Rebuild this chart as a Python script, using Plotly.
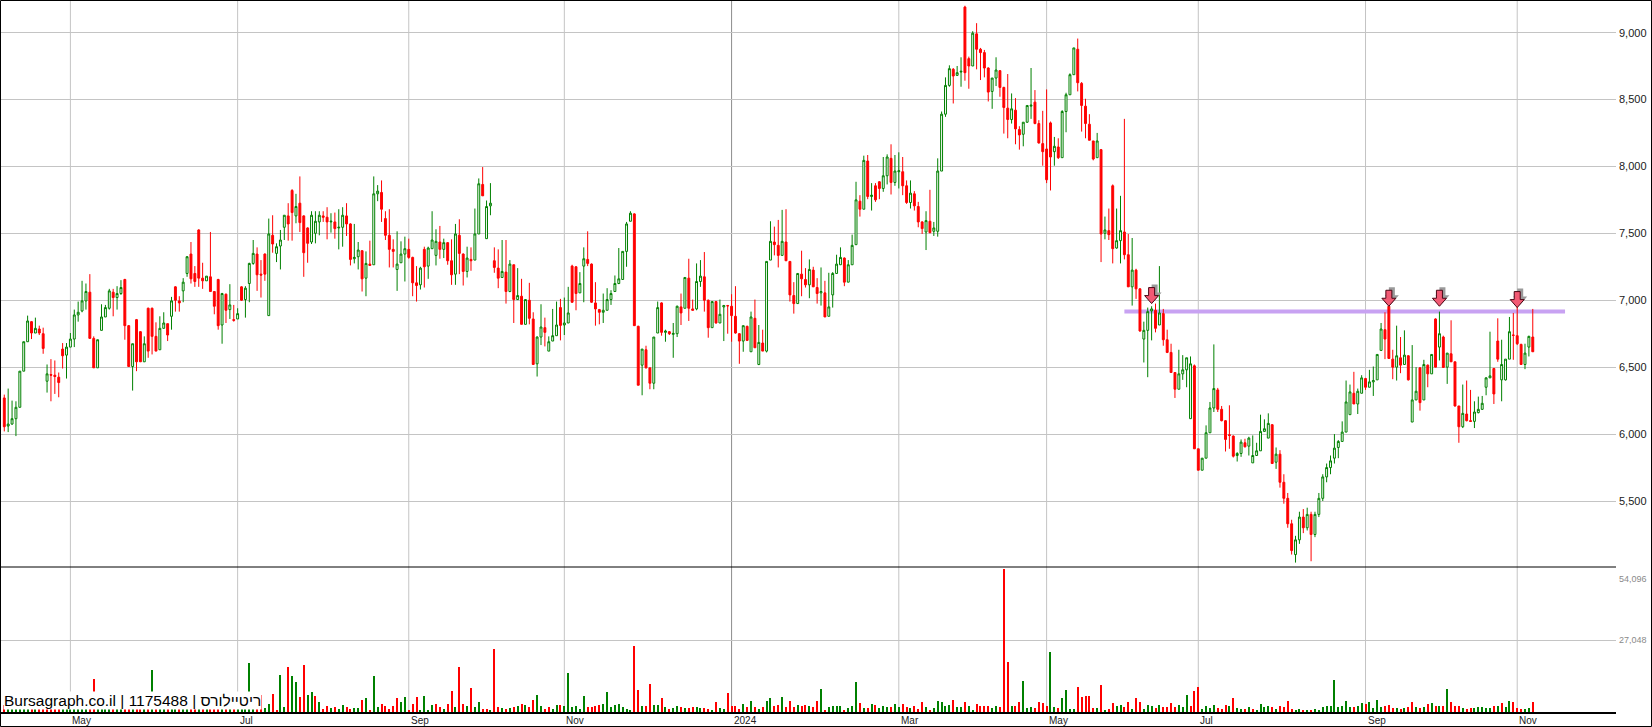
import plotly.graph_objects as go

# Daily candles (open, high, low, close, volume), grouped by the two-month periods between grid lines
seg_apr_2023 = [
    (6270, 6295, 6020, 6055, 2500), (6060, 6340, 6015, 6075, 1800), (6075, 6250, 6070, 6115, 1500),
    (6115, 6245, 5985, 6200, 2200), (6200, 6470, 6200, 6470, 3000), (6470, 6690, 6470, 6690, 3500),
    (6690, 6885, 6690, 6845, 4000), (6840, 6845, 6710, 6755, 2000), (6755, 6870, 6755, 6790, 1500),
    (6785, 6810, 6740, 6755, 1200), (6750, 6795, 6600, 6640, 2500), (6395, 6520, 6310, 6450, 3000),
    (6445, 6560, 6245, 6440, 2500), (6440, 6550, 6300, 6430, 1500), (6425, 6460, 6275, 6385, 2000),
    (6635, 6680, 6490, 6585, 2800), (6590, 6680, 6415, 6650, 2000),
]
seg_may_jun_2023 = [
    (6650, 6755, 6650, 6710, 1800), (6710, 6930, 6650, 6890, 3000), (6890, 6990, 6840, 6910, 2200),
    (6920, 7145, 6910, 6995, 3500), (6995, 7125, 6930, 7065, 2500), (7060, 7195, 6715, 6715, 4500),
    (6715, 6730, 6495, 6495, 12400), (6495, 6705, 6495, 6705, 3000), (6775, 6970, 6775, 6875, 2500),
    (6875, 6965, 6875, 6945, 1800), (6940, 7085, 6930, 7070, 2000), (7060, 7085, 6880, 7020, 2500),
    (7020, 7105, 6930, 7050, 1500), (7050, 7150, 7040, 7095, 2000), (7155, 7160, 6705, 6810, 4500),
    (6810, 6815, 6505, 6505, 3500), (6505, 6675, 6325, 6675, 3000), (6855, 6860, 6470, 6540, 3000),
    (6765, 6770, 6540, 6540, 2000), (6540, 6730, 6540, 6675, 1800), (6940, 6945, 6570, 6620, 3500),
    (6940, 6945, 6595, 6730, 15800), (6730, 6835, 6620, 6620, 2500), (6630, 6880, 6630, 6790, 2000),
    (6790, 6910, 6790, 6830, 1500), (6825, 6825, 6695, 6740, 1800), (6880, 7025, 6780, 6995, 2500),
    (7100, 7105, 6915, 7000, 3000), (6995, 7030, 6915, 6980, 1500), (7070, 7165, 6985, 7135, 2000),
    (7200, 7330, 7175, 7325, 4000), (7345, 7435, 7125, 7160, 3500), (7200, 7255, 7100, 7140, 2000),
    (7525, 7530, 7100, 7165, 3500), (7165, 7280, 7085, 7145, 1500), (7145, 7180, 7145, 7180, 1200),
    (7175, 7510, 7065, 7065, 4000), (7065, 7065, 6895, 6955, 3000), (7155, 7160, 6780, 6810, 4500),
    (6815, 7055, 6675, 7050, 3000), (7045, 7050, 6830, 6925, 2500), (6930, 7120, 6860, 6965, 2000),
    (6855, 6965, 6840, 6850, 1500),
]
seg_jul_aug_2023 = [
    (6860, 6940, 6860, 6900, 2000), (7100, 7105, 6995, 7000, 3000), (7005, 7105, 6870, 7090, 2500),
    (7125, 7280, 6985, 7275, 18450), (7275, 7450, 7265, 7350, 2000), (7345, 7395, 7070, 7190, 1500),
    (7195, 7300, 7020, 7188, 6300), (7345, 7350, 7145, 7195, 1500), (6885, 7610, 6885, 7495, 3200),
    (7485, 7635, 7355, 7420, 6700), (7350, 7425, 7285, 7400, 600), (7405, 7525, 7230, 7450, 13900),
    (7545, 7635, 7450, 7635, 1900), (7630, 7725, 7445, 7570, 17000), (7820, 7830, 7445, 7655, 13500),
    (7630, 7795, 7575, 7700, 11200), (7725, 7925, 7510, 7580, 5700), (7630, 7635, 7175, 7355, 17700),
    (7540, 7545, 7280, 7425, 6300), (7435, 7665, 7420, 7635, 7500), (7500, 7665, 7425, 7590, 5900),
    (7585, 7665, 7485, 7635, 3800), (7630, 7665, 7585, 7620, 1000), (7620, 7695, 7455, 7585, 2300),
    (7585, 7650, 7505, 7590, 1500), (7585, 7655, 7460, 7535, 1900), (7540, 7680, 7380, 7545, 1300),
    (7545, 7695, 7400, 7635, 2500), (7630, 7725, 7480, 7570, 1900), (7570, 7575, 7260, 7305, 1000),
    (7310, 7570, 7275, 7320, 1500), (7325, 7435, 7230, 7375, 1500), (7370, 7375, 7065, 7160, 4400),
    (7165, 7365, 7030, 7275, 5300), (7270, 7445, 7260, 7260, 900), (7265, 7925, 7265, 7795, 13500),
    (7795, 7860, 7740, 7815, 1900), (7805, 7895, 7585, 7680, 3200), (7610, 7665, 7450, 7485, 2400),
    (7485, 7680, 7245, 7380, 1300), (7380, 7455, 7245, 7365, 2100), (7230, 7515, 7070, 7270, 5300),
    (7280, 7440, 7280, 7345, 3800), (7345, 7475, 7140, 7385, 5700),
]
seg_sep_oct_2023 = [
    (7380, 7460, 7310, 7320, 900), (7320, 7325, 7030, 7130, 2900), (7130, 7255, 6990, 7110, 5700),
    (7115, 7250, 7080, 7240, 900), (7380, 7400, 7095, 7250, 5900), (7255, 7400, 7160, 7390, 600),
    (7385, 7665, 7385, 7450, 2500), (7335, 7530, 7260, 7440, 2900), (7435, 7555, 7310, 7380, 1900),
    (7380, 7460, 7315, 7430, 1300), (7430, 7435, 7265, 7295, 3200), (7295, 7455, 7115, 7190, 7800),
    (7195, 7570, 7115, 7495, 1900), (7485, 7605, 7195, 7350, 17000), (7345, 7350, 7110, 7215, 3200),
    (7215, 7400, 7170, 7315, 2100), (7305, 7395, 7220, 7295, 9100), (7300, 7685, 7300, 7495, 1900),
    (7495, 7910, 7495, 7870, 3700), (7865, 7995, 7780, 7780, 1300), (7460, 7745, 7460, 7700, 1300),
    (7705, 7875, 7635, 7725, 900), (7295, 7395, 7205, 7245, 23800), (7240, 7380, 7090, 7165, 1900),
    (7170, 7450, 7170, 7215, 1500), (7210, 7450, 6975, 7065, 1300), (7065, 7300, 7060, 7270, 1500),
    (7265, 7265, 6830, 7005, 1900), (7005, 7240, 7005, 7035, 2300), (7030, 7160, 6820, 6820, 2900),
    (6820, 7005, 6820, 7005, 2500), (7000, 7130, 6820, 6865, 1900), (6860, 6910, 6520, 6520, 4400),
    (6525, 6730, 6430, 6725, 6300), (6725, 6970, 6665, 6800, 2400), (6795, 6870, 6655, 6760, 1300),
    (6620, 6730, 6620, 6690, 1900), (6695, 6935, 6695, 6735, 1300), (6735, 6990, 6735, 6815, 2800),
    (6945, 7010, 6700, 6812, 2800),
]
seg_nov_dec_2023 = [
    (6815, 7020, 6740, 6830, 2100), (6830, 7100, 6830, 6905, 14800), (7255, 7265, 6980, 6985, 1900),
    (7250, 7255, 6925, 7050, 2100), (7055, 7210, 7055, 7125, 1300), (7255, 7395, 6985, 7310, 5900),
    (7305, 7515, 7255, 7275, 1900), (7270, 7275, 6980, 6985, 1900), (6980, 7135, 6810, 6935, 2400),
    (6930, 6935, 6820, 6910, 2800), (6910, 7050, 6830, 6925, 2900), (6925, 7090, 6925, 7005, 7600),
    (7005, 7075, 6965, 7050, 1900), (7065, 7185, 7065, 7125, 2800), (7125, 7390, 7120, 7160, 3200),
    (7155, 7365, 7155, 7365, 1900), (7365, 7585, 7250, 7570, 1300), (7590, 7665, 7590, 7650, 900),
    (7645, 7650, 6810, 6810, 24900), (6805, 6810, 6365, 6365, 8200), (6515, 6635, 6290, 6635, 2100),
    (6630, 6660, 6490, 6495, 2300), (6495, 6495, 6335, 6380, 10500), (6380, 6725, 6335, 6725, 2500),
    (6755, 6990, 6755, 6945, 2500), (6980, 6985, 6735, 6760, 5300), (6760, 6780, 6690, 6770, 1900),
    (6765, 6770, 6740, 6750, 1300), (6745, 6830, 6570, 6752, 1500), (6750, 6960, 6725, 6955, 2300),
    (6950, 7050, 6815, 6905, 1900), (6940, 7170, 6940, 7170, 1600), (7165, 7310, 6845, 6940, 1500),
    (6935, 7005, 6925, 6925, 1900), (6935, 7275, 6925, 7140, 1800), (7140, 7300, 7100, 7180, 1600),
    (7175, 7360, 6915, 7000, 1500), (7000, 7005, 6720, 6795, 1100), (6795, 6990, 6795, 6990, 900),
    (6990, 6995, 6825, 6830, 3800), (6830, 7005, 6830, 6895, 1600), (6950, 6965, 6695, 6960, 1300),
    (6960, 6965, 6750, 6958, 7000),
]
seg_jan_feb_2024 = [
    (6955, 7045, 6690, 6885, 2300), (6880, 7105, 6750, 6755, 2100), (6750, 6755, 6525, 6695, 1300),
    (6695, 6810, 6615, 6810, 2900), (6805, 6810, 6695, 6700, 1900), (6615, 6915, 6615, 6875, 4000),
    (6865, 7005, 6645, 6645, 1900), (6520, 6815, 6515, 6685, 1300), (6680, 6780, 6620, 6620, 1900),
    (6620, 7290, 6610, 7290, 4000), (7300, 7590, 7300, 7440, 5100), (7435, 7550, 7335, 7415, 2100),
    (7410, 7600, 7245, 7335, 2500), (7335, 7675, 7335, 7440, 5600), (7435, 7680, 7295, 7295, 1900),
    (7290, 7290, 6990, 7040, 4000), (7035, 7135, 6900, 6975, 1900), (6975, 7200, 6975, 7200, 2500),
    (7195, 7370, 7030, 7160, 2100), (7155, 7240, 7095, 7115, 2500), (7115, 7305, 7015, 7230, 2300),
    (7225, 7250, 7100, 7100, 1900), (7095, 7165, 6975, 7050, 4000), (7055, 7245, 6960, 7065, 8600),
    (7055, 7145, 6875, 6875, 900), (6880, 7205, 6880, 6950, 1900), (7040, 7210, 6945, 7200, 2100),
    (7200, 7340, 7200, 7270, 2100), (7265, 7395, 7265, 7320, 2100), (7315, 7320, 7105, 7135, 900),
    (7135, 7300, 7135, 7265, 1500), (7265, 7490, 7265, 7410, 2100), (7415, 7885, 7415, 7750, 11400),
    (7740, 7785, 7625, 7680, 3400), (7680, 8080, 7680, 8045, 1500), (8040, 8085, 7755, 7775, 1500),
    (7775, 7875, 7670, 7785, 3200), (7855, 7875, 7735, 7750, 2500), (7885, 7890, 7755, 7835, 1500),
    (7835, 8070, 7810, 7930, 2100), (7930, 8090, 7865, 8070, 1800), (8060, 8165, 7790, 7880, 1900),
    (7880, 8085, 7855, 7965, 3200),
]
seg_mar_apr_2024 = [
    (7960, 8105, 7835, 7967, 1900), (7960, 8070, 7785, 7855, 2900), (7855, 7895, 7720, 7730, 1900),
    (7730, 7895, 7685, 7800, 1500), (7795, 7815, 7670, 7705, 2300), (7700, 7735, 7545, 7585, 1000),
    (7585, 7590, 7495, 7535, 3800), (7510, 7665, 7375, 7595, 1900), (7590, 7825, 7500, 7505, 900),
    (7515, 7585, 7480, 7540, 1500), (7515, 8060, 7475, 7965, 4000), (7965, 8410, 7965, 8390, 3800),
    (8390, 8665, 8370, 8605, 2400), (8605, 8755, 8595, 8730, 2500), (8725, 8735, 8470, 8675, 4400),
    (8680, 8750, 8675, 8700, 1900), (8705, 8815, 8595, 8710, 1900), (9190, 9200, 8640, 8700, 3800),
    (8805, 8820, 8580, 8750, 2300), (8750, 9010, 8750, 8995, 900), (8990, 9070, 8725, 8875, 2900),
    (8875, 8885, 8645, 8850, 2400), (8850, 8870, 8665, 8735, 2300), (8735, 8740, 8485, 8555, 2300),
    (8560, 8660, 8430, 8660, 1500), (8660, 8815, 8600, 8720, 2300), (8715, 8720, 8520, 8590, 1900),
    (8590, 8595, 8245, 8440, 54096), (8435, 8690, 8210, 8350, 18800), (8350, 8545, 8320, 8430, 2300),
    (8420, 8510, 8165, 8280, 2300), (8275, 8300, 8125, 8235, 3700), (8240, 8330, 8150, 8330, 11600),
    (8330, 8455, 8325, 8455, 1500), (8450, 8735, 8355, 8457, 1900), (8480, 8570, 8315, 8320, 1500),
    (8320, 8345, 8170, 8175, 3800), (8170, 8415, 8005, 8110, 3500),
]
seg_may_jun_2024 = [
    (8130, 8575, 7875, 7900, 2300), (8325, 8335, 7820, 8070, 22600), (8110, 8220, 8005, 8150, 1900),
    (8145, 8210, 8055, 8065, 1500), (8065, 8420, 8065, 8410, 5200), (8410, 8550, 8255, 8535, 8200),
    (8535, 8695, 8535, 8685, 1000), (8685, 8885, 8685, 8885, 1300), (8875, 8955, 8560, 8625, 9400),
    (8620, 8630, 8260, 8455, 5700), (8450, 8505, 8210, 8320, 5900), (8315, 8390, 8195, 8195, 6100),
    (8190, 8190, 8045, 8055, 1400), (8065, 8250, 8065, 8190, 1400), (8125, 8130, 7285, 7495, 10100),
    (7500, 7625, 7455, 7525, 900), (7520, 7685, 7450, 7490, 1000), (7855, 7865, 7275, 7385, 3400),
    (7390, 7685, 7385, 7445, 2300), (7445, 7780, 7275, 7520, 2500), (7510, 8355, 7305, 7340, 1900),
    (7340, 7495, 7100, 7100, 3700), (7100, 7465, 6960, 7225, 1100), (7225, 7235, 7010, 7085, 5300),
    (7085, 7090, 6765, 6770, 3800), (6710, 6840, 6535, 6775, 1000), (6775, 6945, 6425, 6915, 2500),
    (6920, 6955, 6700, 6935, 2100), (6925, 6975, 6760, 6790, 1500), (6815, 7255, 6815, 6905, 2800),
    (6900, 6935, 6660, 6705, 1900), (6705, 6780, 6605, 6610, 1900), (6610, 6675, 6460, 6460, 3400),
    (6460, 6460, 6270, 6335, 1900), (6335, 6630, 6335, 6450, 2500), (6450, 6590, 6405, 6480, 1900),
    (6480, 6570, 6350, 6570, 6300), (6115, 6580, 6115, 6525, 2300), (6510, 6520, 5890, 5890, 7800),
]
seg_jul_aug_2024 = [
    (5890, 5890, 5730, 5730, 9500), (5730, 5820, 5730, 5820, 1100), (5820, 6065, 5820, 6010, 2300),
    (6010, 6240, 6010, 6195, 1500), (6195, 6670, 6165, 6340, 2500), (6330, 6345, 6165, 6185, 1500),
    (6185, 6210, 6095, 6100, 1300), (6100, 6105, 5870, 5960, 2500), (5995, 6215, 5890, 5990, 2300),
    (5985, 5990, 5825, 5835, 5200), (5840, 5865, 5795, 5855, 1500), (5855, 5960, 5830, 5940, 1100),
    (5935, 5965, 5900, 5905, 1300), (5910, 5980, 5840, 5970, 1900), (5785, 5990, 5785, 5840, 1100),
    (5840, 5935, 5840, 5875, 900), (5875, 6145, 5875, 6020, 2900), (6020, 6110, 6020, 6040, 1800),
    (5970, 6155, 5970, 6080, 2400), (6070, 6075, 5780, 5780, 1900), (5790, 5900, 5740, 5850, 1300),
    (5850, 5880, 5600, 5640, 2400), (5640, 5700, 5480, 5520, 1900), (5520, 5560, 5300, 5330, 4200),
    (5330, 5360, 5100, 5130, 1100), (5100, 5240, 5040, 5210, 800), (5210, 5420, 5180, 5380, 1100),
    (5380, 5440, 5260, 5300, 900), (5300, 5450, 5280, 5400, 900), (5400, 5420, 5050, 5250, 900),
    (5250, 5420, 5230, 5400, 1100), (5400, 5560, 5380, 5520, 900), (5520, 5700, 5500, 5680, 1900),
    (5680, 5780, 5640, 5750, 2100), (5750, 5840, 5700, 5800, 2300), (5820, 6000, 5780, 5895, 12000),
    (5900, 5955, 5820, 5945, 1900), (5945, 6095, 5945, 6015, 2400), (6015, 6400, 6015, 6240, 4000),
    (6145, 6370, 6145, 6315, 1900), (6305, 6465, 6225, 6225, 1900), (6225, 6340, 6150, 6320, 2400),
    (6305, 6440, 6305, 6420, 3300),
]
seg_sep_oct_2024 = [
    (6415, 6420, 6330, 6350, 3000), (6350, 6480, 6350, 6390, 3800), (6390, 6505, 6285, 6400, 1500),
    (6405, 6595, 6405, 6595, 4500), (6625, 6830, 6625, 6785, 1900), (6780, 6910, 6560, 6710, 2400),
    (6955, 6960, 6565, 6565, 2500), (6560, 6630, 6410, 6500, 1600), (6500, 6810, 6400, 6585, 1400),
    (6570, 6725, 6455, 6515, 1100), (6520, 6775, 6520, 6590, 1600), (6585, 6590, 6400, 6405, 1800),
    (6090, 6665, 6090, 6255, 3700), (6255, 6500, 6255, 6320, 1900), (6495, 6500, 6175, 6235, 1500),
    (6255, 6555, 6255, 6520, 1900), (6515, 6520, 6350, 6450, 2900), (6450, 6595, 6450, 6595, 3400),
    (6860, 6865, 6500, 6500, 2300), (6650, 6915, 6550, 6750, 2300), (6725, 6735, 6500, 6498, 2100),
    (6500, 6605, 6375, 6605, 8600), (6600, 6850, 6540, 6540, 3700), (6540, 6540, 6205, 6210, 2300),
    (6210, 6210, 5935, 6055, 2300), (6055, 6370, 6045, 6155, 1500), (6150, 6400, 6095, 6100, 1300),
    (6100, 6330, 6095, 6095, 1500), (6095, 6245, 6045, 6165, 1500), (6160, 6280, 6155, 6185, 1900),
    (6185, 6285, 6180, 6230, 1900), (6350, 6425, 6290, 6420, 1500), (6420, 6765, 6420, 6435, 1500),
    (6490, 6495, 6225, 6300, 2300), (6695, 6865, 6540, 6560, 2400), (6405, 6705, 6245, 6520, 3400),
    (6405, 6560, 6400, 6560, 1800), (6560, 6875, 6560, 6765, 4200), (6740, 6905, 6555, 6738, 3900),
]
seg_nov_2024 = [
    (6735, 6970, 6665, 6675, 1500), (6670, 6675, 6520, 6520, 1000), (6520, 6675, 6485, 6605, 1000),
    (6650, 6735, 6580, 6730, 1500), (6725, 6935, 6615, 6615, 3700),
]

segments = [seg_apr_2023, seg_may_jun_2023, seg_jul_aug_2023, seg_sep_oct_2023, seg_nov_dec_2023,
            seg_jan_feb_2024, seg_mar_apr_2024, seg_may_jun_2024, seg_jul_aug_2024, seg_sep_oct_2024,
            seg_nov_2024]
segment_labels = ["", "May", "Jul", "Sep", "Nov", "2024", "Mar", "May", "Jul", "Sep", "Nov"]

price_ticks = [5500, 6000, 6500, 7000, 7500, 8000, 8500, 9000]
volume_tick = 27048
volume_max = 54096

resistance_level = 6915
resistance_from, resistance_to = 288, 401.3
signal_index = [295, 356, 369, 389]
signal_price = [6975, 6955, 6955, 6945]

watermark = "Bursagraph.co.il | 1175488 | ריטיילורס"

# ---------------------------------------------------------------------------
rows = [r for seg in segments for r in seg]
idx = list(range(len(rows)))
opens = [r[0] for r in rows]
highs = [r[1] for r in rows]
lows = [r[2] for r in rows]
closes = [r[3] for r in rows]
volumes = [r[4] for r in rows]

starts = []
pos = 0
for seg in segments:
    starts.append(pos)
    pos += len(seg)
tick_pos = starts[1:]
tick_txt = segment_labels[1:]

GREEN = "#008000"
RED = "#ff0000"
vol_colors = []
for i in idx:
    prev = closes[i - 1] if i > 0 else opens[0]
    vol_colors.append(GREEN if closes[i] > prev else RED)

W, H = 1652, 727
ML, MR, MT, MB = 0, 36, 0, 15
plot_w = W - ML - MR
plot_h = H - MT - MB
split = (712 - 567) / plot_h
FONT = "Liberation Sans, Arial, sans-serif"

fig = go.Figure()
fig.add_trace(go.Candlestick(
    x=idx, open=opens, high=highs, low=lows, close=closes,
    increasing=dict(line=dict(color=GREEN, width=1), fillcolor="#ffffff"),
    decreasing=dict(line=dict(color=RED, width=1), fillcolor=RED),
    whiskerwidth=0, xaxis="x", yaxis="y", hoverinfo="skip", showlegend=False,
))
fig.add_trace(go.Bar(
    x=idx, y=volumes, marker=dict(color=vol_colors, line=dict(width=0)),
    width=0.26, xaxis="x2", yaxis="y2", hoverinfo="skip", showlegend=False,
))

shapes = []
for t, lab in zip(tick_pos, tick_txt):
    shapes.append(dict(type="line", xref="x", yref="paper", x0=t, x1=t, y0=0, y1=1,
                       line=dict(color="#8c8c8c" if lab == "2024" else "#c4c4c4", width=1),
                       layer="below"))
# pane separator
shapes.append(dict(type="line", xref="paper", yref="paper", x0=0, x1=1, y0=split, y1=split,
                   line=dict(color="#000000", width=1)))
# resistance line
shapes.append(dict(type="line", xref="x", yref="y", x0=resistance_from, x1=resistance_to,
                   y0=resistance_level, y1=resistance_level,
                   line=dict(color="#c8a2f2", width=4), layer="below"))
# signal arrows
arrow = "M-3,16L3,16L3,8L7,8L0,0L-7,8L-3,8Z"
shadow = "M0,19L6,19L6,11L10,11L3,3L-4,11L0,11Z"
for xi, yp in zip(signal_index, signal_price):
    shapes.append(dict(type="path", xref="x", yref="y", xsizemode="pixel", ysizemode="pixel",
                       xanchor=xi, yanchor=yp, path=shadow, fillcolor="#9a9a9a",
                       line=dict(width=0)))
    shapes.append(dict(type="path", xref="x", yref="y", xsizemode="pixel", ysizemode="pixel",
                       xanchor=xi, yanchor=yp, path=arrow, fillcolor="#f25a74",
                       line=dict(color="#4a0614", width=1)))
# outer border
shapes.append(dict(type="rect", xref="paper", yref="paper",
                   x0=0.5 / plot_w, x1=(W - 0.5) / plot_w,
                   y0=-(MB - 0.5) / plot_h, y1=1 - 0.5 / plot_h,
                   line=dict(color="#000000", width=1), fillcolor="rgba(0,0,0,0)"))

annotations = [
    dict(text=watermark, xref="paper", yref="paper", x=3 / plot_w, y=2 / plot_h,
         xanchor="left", yanchor="bottom", showarrow=False, bgcolor="#ffffff", borderpad=0,
         font=dict(family=FONT, size=15.5, color="#000000")),
    dict(text=f"{volume_max:,}", xref="paper", yref="y2", x=1, y=volume_max * 0.925,
         xanchor="left", yanchor="middle", showarrow=False, xshift=1,
         font=dict(family=FONT, size=9, color="#8a8a8a")),
    dict(text=f"{volume_tick:,}", xref="paper", yref="y2", x=1, y=volume_tick,
         xanchor="left", yanchor="middle", showarrow=False, xshift=1,
         font=dict(family=FONT, size=9, color="#8a8a8a")),
]
for p in price_ticks:
    annotations.append(dict(text=f"{p:,}", xref="paper", yref="y", x=1, y=p,
                            xanchor="left", yanchor="middle", showarrow=False, xshift=1,
                            font=dict(family=FONT, size=11, color="#1a1a1a")))
for t, lab in zip(tick_pos, tick_txt):
    annotations.append(dict(text=lab, xref="x2", yref="paper", x=t, y=0,
                            xanchor="left", yanchor="top", showarrow=False, xshift=0, yshift=-1,
                            font=dict(family=FONT, size=10, color="#222222")))

fig.update_layout(
    width=W, height=H, margin=dict(l=ML, r=MR, t=MT, b=MB, pad=0),
    paper_bgcolor="#ffffff", plot_bgcolor="#ffffff", showlegend=False,
    bargap=0, shapes=shapes, annotations=annotations,
    xaxis=dict(domain=[0, 1], range=[-1.1, 414.4], anchor="y", rangeslider=dict(visible=False),
               showgrid=False, zeroline=False, showticklabels=False, ticks=""),
    yaxis=dict(domain=[split, 1], range=[5007, 9243], side="right", tickvals=price_ticks,
               showticklabels=False, showgrid=True, gridcolor="#c4c4c4", gridwidth=1,
               zeroline=False, ticks=""),
    xaxis2=dict(domain=[0, 1], anchor="y2", matches="x", range=[-1.1, 414.4],
                showticklabels=False, showgrid=False, zeroline=False, showline=True,
                linecolor="#000000", linewidth=2, ticks=""),
    yaxis2=dict(domain=[0, split], range=[0, 54704], side="right", tickvals=[volume_tick],
                showticklabels=False, showgrid=True, gridcolor="#c4c4c4",
                zeroline=False, ticks=""),
)

fig.write_html("out.html", config={"displayModeBar": False},
               post_script="document.body.style.margin='0';document.body.style.overflow='hidden';")
